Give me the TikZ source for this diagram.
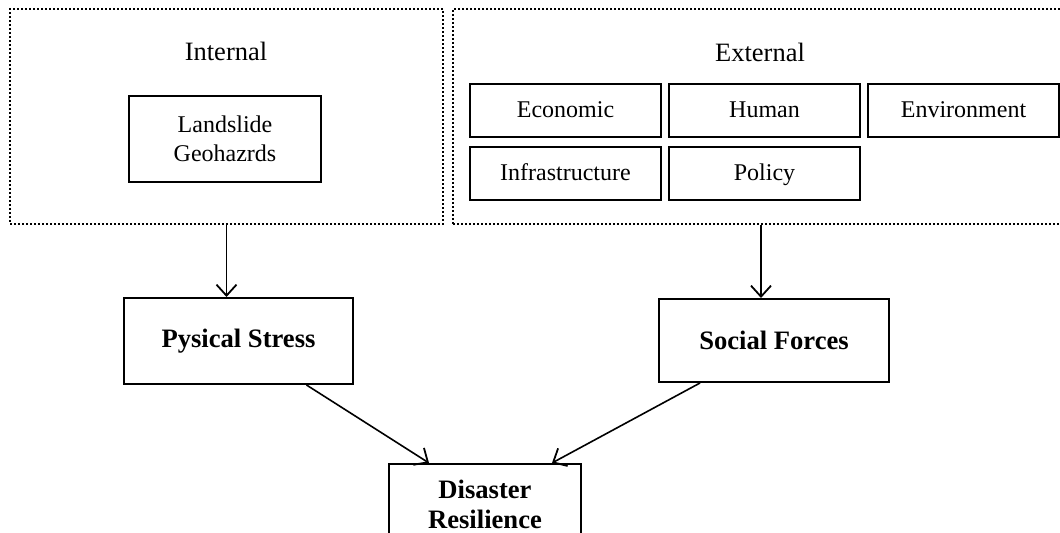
\documentclass[tikz,border=0pt]{standalone}
\usepackage{fontspec}
\setmainfont{Liberation Serif}
\usetikzlibrary{positioning}
\usetikzlibrary{arrows.meta}

\tikzset{
	groupbox/.style={draw, line width=0.8pt, dash pattern=on 1pt off 1pt},
	heading/.style={inner sep=0pt, font=\fontsize{13.25}{16}\selectfont},
	factor/.style={draw, line width=1pt, minimum width=95.5pt, minimum height=26.5pt, inner sep=0pt, text height=9pt, text depth=2pt, font=\fontsize{12}{14.5}\selectfont},
	result/.style={draw, line width=1pt, inner sep=0pt, align=center, font=\fontsize{13.3}{15}\selectfont\bfseries},
	flow/.style={line width=0.8pt, -{Straight Barb[length=5.5pt,width=10pt,line width=0.9pt]}},
}

\begin{document}
\begin{tikzpicture}[x=0.5pt,y=-0.5pt]
		\useasboundingbox (0,0) rectangle (1060,533);
		%\draw[thin, gray!25] (0,0) grid[step=100] (1060,533);
		\node[groupbox, minimum width=216.5pt, minimum height=107.5pt] (internal) at (226.5,116.5) {};
		\node[groupbox, minimum width=308pt, minimum height=107.5pt] (external) at (761,116.5) {};
		\node[heading, anchor=base] (intlabel) at (226,61) {Internal};
		\node[heading, anchor=base] (extlabel) at (760,62) {External};
		\node[draw, line width=1pt, inner sep=0pt, font=\fontsize{12}{14.5}\selectfont, minimum width=96pt, minimum height=43pt, align=center] (landslide) at (225,139) {Landslide\\Geohazrds};
		\node[factor] (economic) at (565.5,110.5) {Economic};
		\node[factor, right=3pt of economic] (human) {Human};
		\node[factor, right=3pt of human] (environment) {Environment};
		\node[factor, below=4pt of economic] (infra) {Infrastructure};
		\node[factor, below=4pt of human] (policy) {Policy};
		\node[result, minimum width=114.5pt, minimum height=43pt] (physical) at (238.5,341) {Pysical Stress};
		\node[result, minimum width=115pt, minimum height=41.5pt] (social) at (774,340.5) {Social Forces};
		\node[result, minimum width=96pt, minimum height=40pt, anchor=north] (disaster) at (485,463) {Disaster\\Resilience};
		\draw[flow] (internal.south) -- (internal.south |- physical.north);
		\draw[flow] (external.south) -- (external.south |- social.north);
		\draw[flow] ([xshift=34pt]physical.south) -- ([xshift=-28pt]disaster.north);
		\draw[flow] ([xshift=-37pt]social.south) -- ([xshift=33.5pt]disaster.north);
	\end{tikzpicture}
\end{document}
